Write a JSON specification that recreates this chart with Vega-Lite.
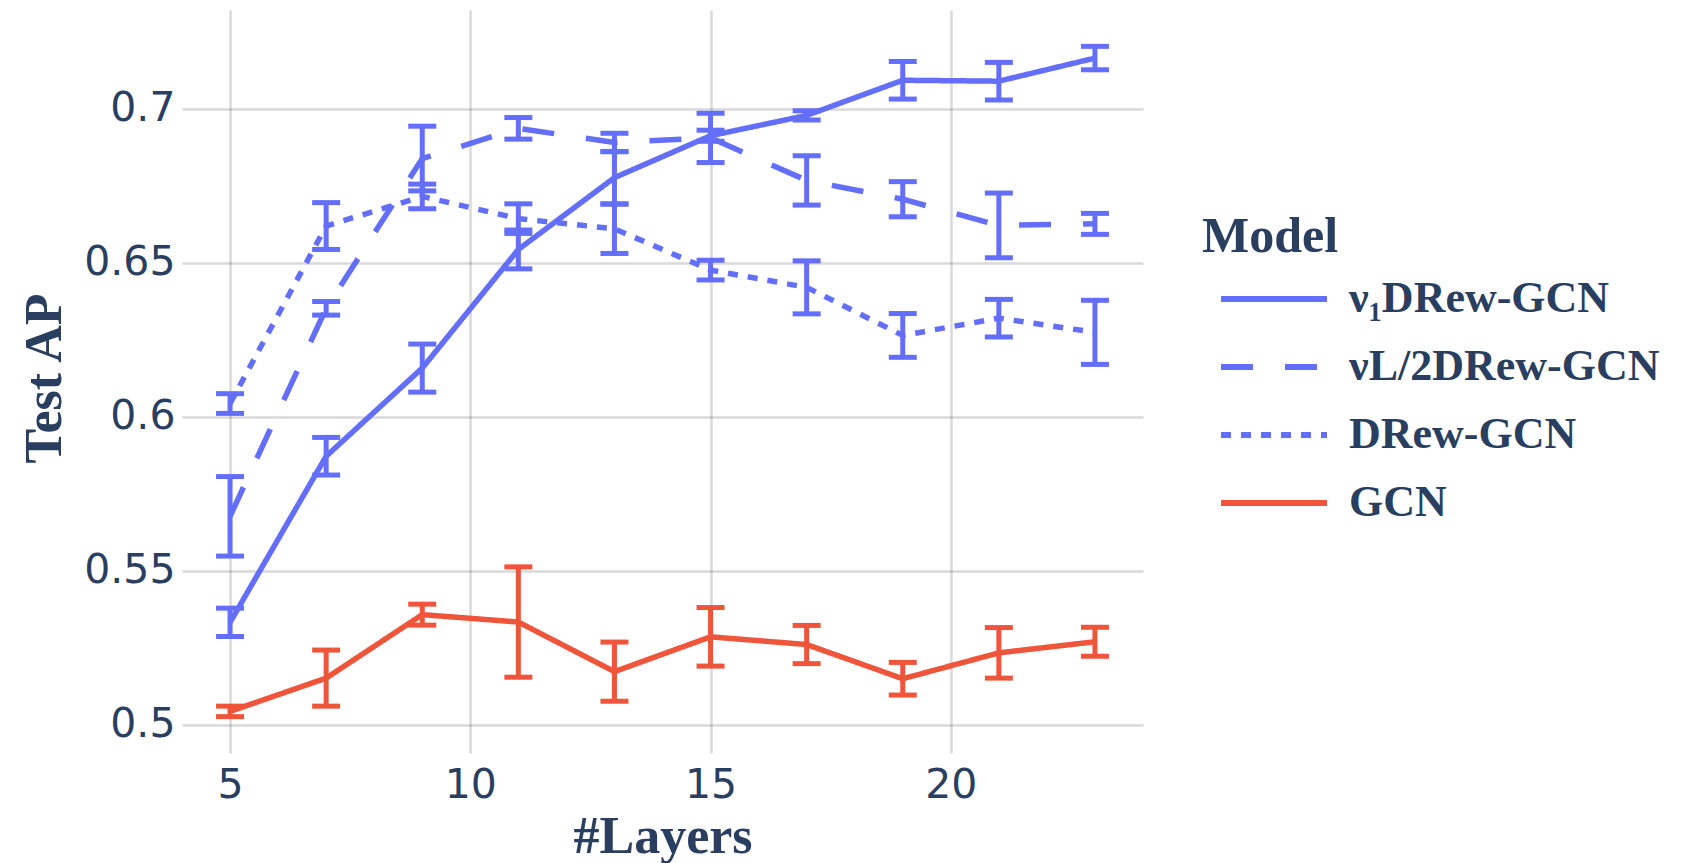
{
  "$schema": "https://vega.github.io/schema/vega-lite/v6.json",
  "width": 961,
  "height": 743,
  "autosize": {"type": "none"},
  "padding": {"left": 182, "top": 10, "right": 538, "bottom": 110},
  "background": "white",
  "config": {
    "view": {"stroke": null},
    "axis": {
      "domain": false,
      "ticks": false,
      "grid": true,
      "gridColor": "#000000",
      "gridOpacity": 0.15,
      "gridWidth": 2.5,
      "labelFont": "DejaVu Sans",
      "labelFontSize": 41,
      "labelColor": "#2a3f5f",
      "titleFont": "Liberation Serif",
      "titleFontSize": 52,
      "titleFontWeight": "bold",
      "titleColor": "#2a3f5f"
    },
    "legend": {
      "orient": "none",
      "legendX": 1020,
      "legendY": 202,
      "padding": 0,
      "titleFont": "Liberation Serif",
      "titleFontSize": 50,
      "titleFontWeight": "bold",
      "titleColor": "#2a3f5f",
      "titlePadding": 17,
      "labelFont": "Liberation Serif",
      "labelFontSize": 44,
      "labelFontWeight": "bold",
      "labelColor": "#2a3f5f",
      "labelLimit": 600,
      "symbolType": "stroke",
      "symbolSize": 11236,
      "symbolStrokeWidth": 6,
      "clipHeight": 40,
      "rowPadding": 24,
      "symbolOffset": 16,
      "labelOffset": 19
    }
  },
  "data": {
    "values": [
      {"layers": 5, "model": "ν₁DRew-GCN", "ap": 0.5333, "err": 0.0046},
      {"layers": 7, "model": "ν₁DRew-GCN", "ap": 0.5872, "err": 0.0061},
      {"layers": 9, "model": "ν₁DRew-GCN", "ap": 0.6158, "err": 0.0078},
      {"layers": 11, "model": "ν₁DRew-GCN", "ap": 0.6543, "err": 0.0063},
      {"layers": 13, "model": "ν₁DRew-GCN", "ap": 0.6776, "err": 0.0085},
      {"layers": 15, "model": "ν₁DRew-GCN", "ap": 0.6912, "err": 0.0018},
      {"layers": 17, "model": "ν₁DRew-GCN", "ap": 0.6978, "err": 0.0015},
      {"layers": 19, "model": "ν₁DRew-GCN", "ap": 0.7092, "err": 0.0061},
      {"layers": 21, "model": "ν₁DRew-GCN", "ap": 0.7089, "err": 0.0061},
      {"layers": 23, "model": "ν₁DRew-GCN", "ap": 0.7164, "err": 0.0038},
      {"layers": 5, "model": "νL/2DRew-GCN", "ap": 0.5677, "err": 0.0129},
      {"layers": 7, "model": "νL/2DRew-GCN", "ap": 0.6352, "err": 0.0022},
      {"layers": 9, "model": "νL/2DRew-GCN", "ap": 0.6838, "err": 0.0105},
      {"layers": 11, "model": "νL/2DRew-GCN", "ap": 0.6936, "err": 0.0035},
      {"layers": 13, "model": "νL/2DRew-GCN", "ap": 0.689, "err": 0.003},
      {"layers": 15, "model": "νL/2DRew-GCN", "ap": 0.6905, "err": 0.008},
      {"layers": 17, "model": "νL/2DRew-GCN", "ap": 0.6767, "err": 0.008},
      {"layers": 19, "model": "νL/2DRew-GCN", "ap": 0.6706, "err": 0.0057},
      {"layers": 21, "model": "νL/2DRew-GCN", "ap": 0.6621, "err": 0.0105},
      {"layers": 23, "model": "νL/2DRew-GCN", "ap": 0.6626, "err": 0.0034},
      {"layers": 5, "model": "DRew-GCN", "ap": 0.6043, "err": 0.0032},
      {"layers": 7, "model": "DRew-GCN", "ap": 0.6619, "err": 0.0076},
      {"layers": 9, "model": "DRew-GCN", "ap": 0.6715, "err": 0.004},
      {"layers": 11, "model": "DRew-GCN", "ap": 0.6643, "err": 0.0048},
      {"layers": 13, "model": "DRew-GCN", "ap": 0.661, "err": 0.008},
      {"layers": 15, "model": "DRew-GCN", "ap": 0.6476, "err": 0.0032},
      {"layers": 17, "model": "DRew-GCN", "ap": 0.642, "err": 0.0086},
      {"layers": 19, "model": "DRew-GCN", "ap": 0.6264, "err": 0.0071},
      {"layers": 21, "model": "DRew-GCN", "ap": 0.632, "err": 0.0061},
      {"layers": 23, "model": "DRew-GCN", "ap": 0.6274, "err": 0.0104},
      {"layers": 5, "model": "GCN", "ap": 0.5044, "err": 0.0017},
      {"layers": 7, "model": "GCN", "ap": 0.5152, "err": 0.0091},
      {"layers": 9, "model": "GCN", "ap": 0.5358, "err": 0.0034},
      {"layers": 11, "model": "GCN", "ap": 0.5334, "err": 0.0179},
      {"layers": 13, "model": "GCN", "ap": 0.5173, "err": 0.0096},
      {"layers": 15, "model": "GCN", "ap": 0.5286, "err": 0.0095},
      {"layers": 17, "model": "GCN", "ap": 0.5261, "err": 0.0062},
      {"layers": 19, "model": "GCN", "ap": 0.515, "err": 0.0053},
      {"layers": 21, "model": "GCN", "ap": 0.5234, "err": 0.0082},
      {"layers": 23, "model": "GCN", "ap": 0.527, "err": 0.0047}
    ]
  },
  "encoding": {
    "x": {
      "field": "layers",
      "type": "quantitative",
      "scale": {"domain": [4, 24], "nice": false, "zero": false},
      "axis": {
        "title": "#Layers",
        "values": [5, 10, 15, 20],
        "format": "d",
        "labelPadding": 12,
        "titleY": 99,
        "titleBaseline": "alphabetic"
      }
    },
    "color": {
      "field": "model",
      "type": "nominal",
      "sort": ["ν₁DRew-GCN", "νL/2DRew-GCN", "DRew-GCN", "GCN"],
      "scale": {
        "domain": ["ν₁DRew-GCN", "νL/2DRew-GCN", "DRew-GCN", "GCN"],
        "range": ["#636efa", "#636efa", "#636efa", "#ef553b"]
      },
      "legend": {"title": "Model"}
    }
  },
  "layer": [
    {
      "mark": {
        "type": "errorbar",
        "ticks": {"size": 28, "thickness": 5, "opacity": 1},
        "rule": {"strokeWidth": 5, "opacity": 1},
        "thickness": 5
      },
      "encoding": {
        "y": {
          "field": "ap",
          "type": "quantitative",
          "scale": {"domain": [0.4909, 0.732], "nice": false, "zero": false},
          "axis": {
            "title": "Test AP",
            "values": [0.5, 0.55, 0.6, 0.65, 0.7],
            "format": ".2~f",
            "labelPadding": 7,
            "titleX": -122,
            "titleY": 368,
            "titleAngle": 270,
            "titleAlign": "center",
            "titleBaseline": "alphabetic"
          }
        },
        "yError": {"field": "err"}
      }
    },
    {
      "mark": {"type": "line", "strokeWidth": 5.5},
      "encoding": {
        "y": {"field": "ap", "type": "quantitative"},
        "strokeDash": {
          "field": "model",
          "type": "nominal",
          "sort": ["ν₁DRew-GCN", "νL/2DRew-GCN", "DRew-GCN", "GCN"],
          "scale": {
            "domain": ["ν₁DRew-GCN", "νL/2DRew-GCN", "DRew-GCN", "GCN"],
            "range": [[1, 0], [32, 32], [10, 10], [1, 0]]
          },
          "legend": {"title": "Model"}
        }
      }
    }
  ]
}
